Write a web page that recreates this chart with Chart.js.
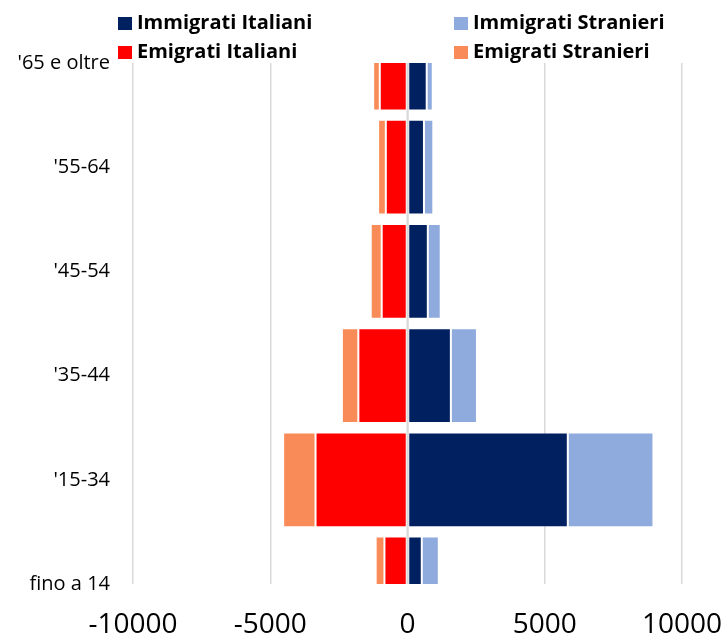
<!DOCTYPE html>
<html>
<head>
<meta charset="utf-8">
<script src="https://cdn.jsdelivr.net/npm/chart.js@4.4.1/dist/chart.umd.min.js"></script>
<style>
  body { margin: 0; background: #fff; }
  .wrap { position: relative; width: 728px; height: 639px; }
  #legend {
    position: absolute;
    left: 118px;
    top: 8px;
    display: grid;
    grid-template-columns: 336px auto;
    row-gap: 2px;
    font-family: 'Open Sans', sans-serif;
    font-weight: 700;
    font-size: 20px;
    line-height: 27px;
    color: #000;
  }
  #legend .item { display: flex; align-items: center; white-space: nowrap; }
  #legend .box { width: 14px; height: 13px; margin-right: 5px; margin-top: 3px; }
</style>
</head>
<body>
<div class="wrap">
  <canvas id="piramide"></canvas>
  <div id="legend"></div>
</div>
<script>
const ageGroups = ['fino a 14', "'15-34", "'35-44", "'45-54", "'55-64", "'65 e oltre"];
const immigratiItaliani = [520, 5840, 1580, 740, 600, 700];
const immigratiStranieri = [620, 3120, 950, 470, 340, 220];
const emigratiItaliani = [-840, -3350, -1790, -940, -790, -1010];
const emigratiStranieri = [-320, -1180, -600, -400, -280, -240];

const GRID = '#D9D9D9';

// riga verticale sullo zero, sopra le barre come in Excel
const zeroLine = {
  id: 'zeroLine',
  afterDatasetsDraw(chart) {
    const { ctx, chartArea, scales } = chart;
    const x = scales.x.getPixelForValue(0);
    ctx.save();
    ctx.strokeStyle = GRID;
    ctx.lineWidth = 2;
    ctx.beginPath();
    ctx.moveTo(x, chartArea.top);
    ctx.lineTo(x, chartArea.bottom);
    ctx.stroke();
    ctx.restore();
  },
};

function serie(label, data, color) {
  return {
    label,
    data,
    backgroundColor: color,
    borderColor: 'rgba(255,255,255,0.35)',
    borderWidth: 1,
    borderSkipped: false,
    categoryPercentage: 1,
    barPercentage: 0.91,
  };
}

const chart = new Chart(document.querySelector('#piramide'), {
  type: 'bar',
  data: {
    labels: ageGroups,
    datasets: [
      serie('Immigrati Italiani', immigratiItaliani, '#002060'),
      serie('Immigrati Stranieri', immigratiStranieri, '#8FAADC'),
      serie('Emigrati Italiani', emigratiItaliani, '#FF0000'),
      serie('Emigrati Stranieri', emigratiStranieri, '#F98B58'),
    ],
  },
  options: {
    indexAxis: 'y',
    responsive: true,
    maintainAspectRatio: false,
    animation: false,
    layout: { padding: { top: 63, right: 46, bottom: 0, left: 0 } },
    scales: {
      x: {
        stacked: true,
        min: -10000,
        max: 10000,
        grid: { color: GRID, lineWidth: 1.5, drawTicks: false },
        border: { display: false },
        afterFit: (s) => {
          s.height = 55;
          s.paddingLeft = 0;
          s.paddingRight = 0;
        },
        ticks: {
          stepSize: 5000,
          padding: 27,
          color: '#000',
          maxRotation: 0,
          callback: (v) => String(v),
          font: { family: "'Open Sans', sans-serif", size: 28, lineHeight: 1 },
        },
      },
      y: {
        stacked: true,
        reverse: true,
        offset: false,
        grid: { display: false, drawTicks: false },
        border: { display: false },
        afterFit: (s) => { s.width = 133; },
        ticks: {
          padding: 23,
          color: '#000',
          font: { family: "'Open Sans', sans-serif", size: 20 },
        },
      },
    },
    plugins: {
      legend: { display: false },
      tooltip: { enabled: false },
    },
  },
  plugins: [zeroLine],
});

// legenda in html, due colonne come nell'originale
const legend = document.querySelector('#legend');
chart.data.datasets.forEach((ds) => {
  const item = document.createElement('div');
  item.className = 'item';
  item.innerHTML = `<span class="box" style="background:${ds.backgroundColor}"></span>${ds.label}`;
  legend.appendChild(item);
});
</script>
</body>
</html>
